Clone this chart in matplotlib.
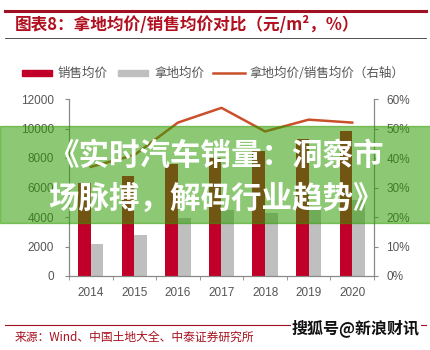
import matplotlib
matplotlib.use("Agg")
from matplotlib import pyplot as plt
from matplotlib.patches import Rectangle
from matplotlib.lines import Line2D
import numpy as np

plt.rcParams['font.family'] = ['Noto Sans CJK SC', 'DejaVu Sans']

YEARS = ["2014", "2015", "2016", "2017", "2018", "2019", "2020"]
SALE_PRICE = [6300, 6800, 7600, 8000, 8500, 9300, 9850]      # 销售均价, 元/m2
LAND_PRICE = [2200, 2750, 3900, 4450, 4300, 4550, 5150]      # 拿地均价, 元/m2
LAND_TO_SALE = [37, 41, 52, 57, 49, 53, 52]                  # 拿地均价/销售均价, %

RED = "#c00028"
GREY = "#bfbfbf"
ORANGE = "#c9502a"
TXT = "#555555"
DARK_RED = "#a8101e"

W, H = 431, 350
fig = plt.figure(figsize=(W / 100, H / 100), dpi=100)

def fx(px):
    return px / W

def fy(py):
    return 1 - py / H

# header: thick red rule, title, thin rule
fig.add_artist(Line2D([fx(5), fx(426)], [fy(11), fy(11)], color="#9e1022", lw=2.2))
fig.text(fx(15), fy(25), "图表8：拿地均价/销售均价对比（元/m²，%）", color="#b01020",
         fontsize=12, fontweight="bold", va="center", ha="left")
fig.add_artist(Line2D([fx(5), fx(426)], [fy(38), fy(38)], color="#333333", lw=0.6))

ax = fig.add_axes([fx(69), fy(276), fx(374) - fx(69), fy(99) - fy(276)])
x = np.arange(len(YEARS))
bw = 0.29
ax.bar(x - bw / 2, SALE_PRICE, bw, color=RED, zorder=2)
ax.bar(x + bw / 2, LAND_PRICE, bw, color=GREY, zorder=2)
ax.set_xlim(-0.5, len(YEARS) - 0.5)
ax.set_ylim(0, 12000)
ax.set_yticks(np.arange(0, 12001, 2000))
ax.set_xticks(x)
ax.set_xticklabels(YEARS)
ax.set_xticks(np.arange(-0.5, len(YEARS), 1), minor=True)
ax.tick_params(axis="x", which="major", length=0, pad=8, labelsize=8.5, labelcolor=TXT)
ax.tick_params(axis="x", which="minor", length=3, color="#888888", direction="out")
ax.tick_params(axis="y", length=3, color="#888888", pad=8, labelsize=8.5, labelcolor=TXT)
for lab in ax.get_xticklabels() + ax.get_yticklabels():
    lab.set_family("Liberation Sans")
ax.spines["top"].set_visible(False)
for s in ("left", "right", "bottom"):
    ax.spines[s].set_color("#888888")
    ax.spines[s].set_linewidth(0.8)

ax2 = ax.twinx()
ax2.plot(x, LAND_TO_SALE, color=ORANGE, lw=1.8, zorder=3)
ax2.set_ylim(0, 60)
ax2.set_yticks(np.arange(0, 61, 10))
ax2.set_yticklabels([f"{v}%" for v in range(0, 61, 10)])
ax2.tick_params(axis="y", length=3, color="#888888", pad=6, labelsize=8.5, labelcolor=TXT)
for lab in ax2.get_yticklabels():
    lab.set_family("Liberation Sans")
ax2.spines["top"].set_visible(False)
for s in ("left", "right", "bottom"):
    ax2.spines[s].set_color("#888888")
    ax2.spines[s].set_linewidth(0.8)

# legend drawn by hand in figure pixels
ly = 73
fig.add_artist(Rectangle((fx(22), fy(ly + 2.5)), fx(52) - fx(22), fy(ly - 2.5) - fy(ly + 2.5), color=RED))
fig.text(fx(58), fy(ly), "销售均价", color=TXT, fontsize=9, va="center")
fig.add_artist(Rectangle((fx(118), fy(ly + 2.5)), fx(148) - fx(118), fy(ly - 2.5) - fy(ly + 2.5), color=GREY))
fig.text(fx(155), fy(ly), "拿地均价", color=TXT, fontsize=9, va="center")
fig.add_artist(Line2D([fx(213), fx(245)], [fy(ly), fy(ly)], color=ORANGE, lw=1.8))
fig.text(fx(250), fy(ly), "拿地均价/销售均价（右轴）", color=TXT, fontsize=9, va="center")

# footer
fig.add_artist(Line2D([fx(5), fx(426)], [fy(325), fy(325)], color="#9e1022", lw=0.8))
fig.text(fx(15), fy(337), "来源：Wind、中国土地大全、中泰证券研究所", color=DARK_RED,
         fontsize=8.5, va="center")
fig.text(fx(292), fy(328), "搜狐号@新浪财讯", color="#111111", fontsize=11.5,
         fontweight="bold", va="center", ha="left", zorder=6,
         bbox=dict(facecolor="white", edgecolor="none", pad=0.5))

# green banner across the middle
fig.add_artist(Rectangle((0, fy(223)), 1, fy(126) - fy(223), color="#309d02", alpha=0.55, zorder=10))
fig.text(0.5, fy(156), "《实时汽车销量：洞察市", color="white", fontsize=22,
         fontweight="bold", ha="center", va="center", zorder=11)
fig.text(0.5, fy(199), "场脉搏，解码行业趋势》", color="white", fontsize=22,
         fontweight="bold", ha="center", va="center", zorder=11)

fig.savefig("out.png", dpi=100)
